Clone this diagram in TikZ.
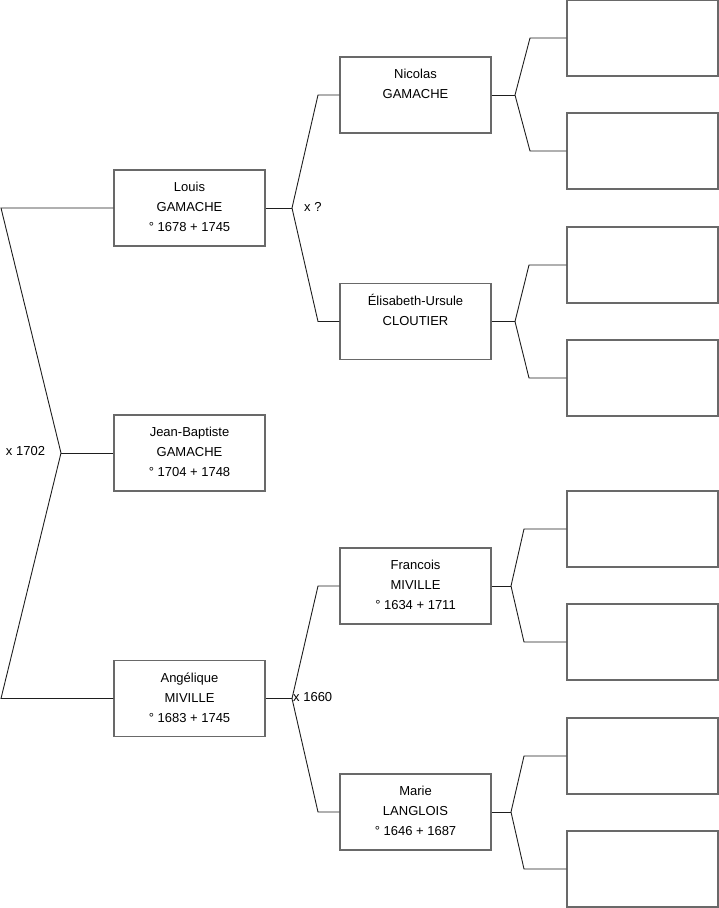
\documentclass[tikz,border=0pt]{standalone}
\usepackage{fontspec}
\setmainfont{Liberation Sans}
\begin{document}
\begin{tikzpicture}[x=1pt,y=-1pt,
  person/.style={draw={rgb,255:red,105;green,105;blue,105},line width=1.2pt,fill=white,minimum width=151pt,minimum height=76pt,inner sep=0pt},
  ptext/.style={anchor=north,align=center,inner sep=0pt,yshift=-10pt,font=\fontsize{13}{20}\selectfont},
  conn/.style={draw={rgb,255:red,30;green,30;blue,30},line width=0.9pt},
  mlabel/.style={font=\fontsize{13}{16}\selectfont,inner sep=0pt}]
\useasboundingbox (0,0) rectangle (719,908);
% generation 1
\node[person] (louis) at (189.5,208) {};
\node[ptext] (louisT) at (louis.north) {\rule{0pt}{12pt}Louis\\GAMACHE\\° 1678 + 1745};
\node[person] (jb) at (189.5,453) {};
\node[ptext] (jbT) at (jb.north) {\rule{0pt}{12pt}Jean-Baptiste\\GAMACHE\\° 1704 + 1748};
\node[person] (ang) at (189.5,698.5) {};
\node[ptext] (angT) at (ang.north) {\rule{0pt}{12pt}Angélique\\MIVILLE\\° 1683 + 1745};
% generation 2
\node[person] (nic) at (415.5,95) {};
\node[ptext] (nicT) at (nic.north) {\rule{0pt}{12pt}Nicolas\\GAMACHE};
\node[person] (eli) at (415.5,321.5) {};
\node[ptext] (eliT) at (eli.north) {\rule{0pt}{12pt}Élisabeth-Ursule\\CLOUTIER};
\node[person] (fra) at (415.5,586) {};
\node[ptext] (fraT) at (fra.north) {\rule{0pt}{12pt}Francois\\MIVILLE\\° 1634 + 1711};
\node[person] (mar) at (415.5,812) {};
\node[ptext] (marT) at (mar.north) {\rule{0pt}{12pt}Marie\\LANGLOIS\\° 1646 + 1687};
% generation 3
\node[person] (e1) at (642.5,38) {};
\node[person] (e2) at (642.5,151) {};
\node[person] (e3) at (642.5,265) {};
\node[person] (e4) at (642.5,378) {};
\node[person] (e5) at (642.5,529) {};
\node[person] (e6) at (642.5,642) {};
\node[person] (e7) at (642.5,756) {};
\node[person] (e8) at (642.5,869) {};
% junction coordinates
\coordinate (j0) at (61,453);
\coordinate (a0) at (1,208);
\coordinate (b0) at (1,698.5);
\coordinate (j1) at (292,208);
\coordinate (a1) at (318,95);
\coordinate (b1) at (318,321.5);
\coordinate (j2) at (292,698.5);
\coordinate (a2) at (318,586);
\coordinate (b2) at (318,812);
\coordinate (j3) at (515,95);
\coordinate (a3) at (530,38);
\coordinate (b3) at (530,151);
\coordinate (j4) at (515,321.5);
\coordinate (a4) at (529,265);
\coordinate (b4) at (529,378);
\coordinate (j5) at (511,586);
\coordinate (a5) at (524,529);
\coordinate (b5) at (524,642);
\coordinate (j6) at (511,812);
\coordinate (a6) at (524,756);
\coordinate (b6) at (524,869);
% connectors
\draw[conn] (louis.west) -- (a0) -- (j0) -- (b0) -- (ang.west);
\draw[conn] (j0) -- (jb.west);
\draw[conn] (louis.east) -- (j1);
\draw[conn] (nic.west) -- (a1) -- (j1) -- (b1) -- (eli.west);
\draw[conn] (ang.east) -- (j2);
\draw[conn] (fra.west) -- (a2) -- (j2) -- (b2) -- (mar.west);
\draw[conn] (nic.east) -- (j3);
\draw[conn] (e1.west) -- (a3) -- (j3) -- (b3) -- (e2.west);
\draw[conn] (eli.east) -- (j4);
\draw[conn] (e3.west) -- (a4) -- (j4) -- (b4) -- (e4.west);
\draw[conn] (fra.east) -- (j5);
\draw[conn] (e5.west) -- (a5) -- (j5) -- (b5) -- (e6.west);
\draw[conn] (mar.east) -- (j6);
\draw[conn] (e7.west) -- (a6) -- (j6) -- (b6) -- (e8.west);
% marriage labels
\node[mlabel] (m0) at (25.5,451.5) {x 1702};
\node[mlabel,anchor=west] (m1) at (304,207) {x ?};
\node[mlabel,anchor=west] (m2) at (293,697.5) {x 1660};
\end{tikzpicture}
\end{document}
